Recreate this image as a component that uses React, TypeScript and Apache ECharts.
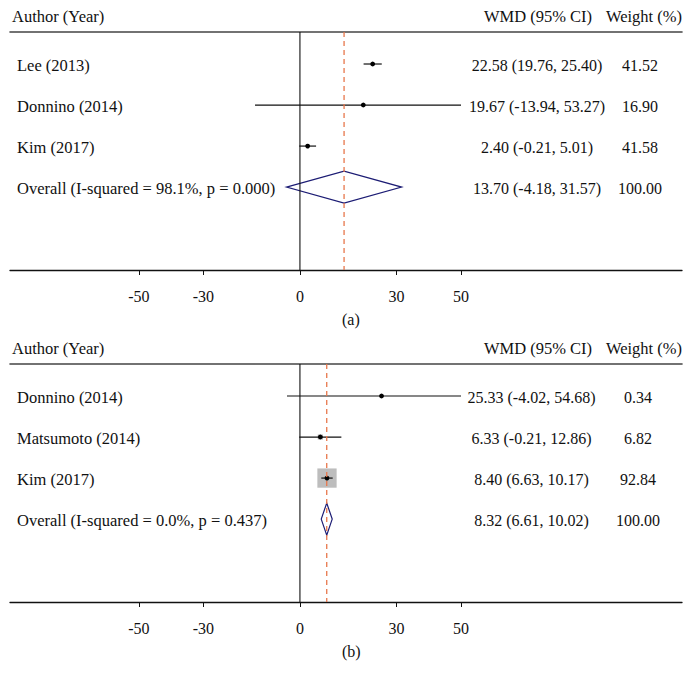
import React, { useEffect, useRef } from "react";
import * as echarts from "echarts";

// Panel (a)
const studiesA = ["Lee (2013)", "Donnino (2014)", "Kim (2017)"];
const estA = [22.58, 19.67, 2.4];
const loA = [19.76, -13.94, -0.21];
const hiA = [25.4, 53.27, 5.01];
const weightA = [41.52, 16.9, 41.58];
const overallLabelA = "Overall (I-squared = 98.1%, p = 0.000)";
const overallA = [13.7, -4.18, 31.57, 100.0];

// Panel (b)
const studiesB = ["Donnino (2014)", "Matsumoto (2014)", "Kim (2017)"];
const estB = [25.33, 6.33, 8.4];
const loB = [-4.02, -0.21, 6.63];
const hiB = [54.68, 12.86, 10.17];
const weightB = [0.34, 6.82, 92.84];
const overallLabelB = "Overall (I-squared = 0.0%, p = 0.437)";
const overallB = [8.32, 6.61, 10.02, 100.0];

const tickValues = [-50, -30, 0, 30, 50];
const plotMin = -50;
const plotMax = 50;
const headerLeft = "Author (Year)";
const headerMid = "WMD (95% CI)";
const headerRight = "Weight (%)";

const FONT = '"Liberation Serif", "Times New Roman", serif';
const X_MIN = -90;
const X_MAX = 118.6;
const Y_MIN = -0.78;
const Y_MAX = 5.02;

function buildRows(names: string[], est: number[], lo: number[], hi: number[], w: number[], ovLabel: string, ov: number[]) {
  const rows: any[] = names.map((n, i) => ({ value: [i, est[i], lo[i], hi[i], w[i], 0, n] }));
  rows.push({ value: [names.length, ov[0], ov[1], ov[2], ov[3], 1, ovLabel] });
  return rows;
}

function makeRenderItem(boxK: number, ciFromRight: number, wFromRight: number) {
  return (params: any, api: any) => {
    const row = api.value(0);
    const est = api.value(1);
    const lo = api.value(2);
    const hi = api.value(3);
    const w = api.value(4);
    const isOverall = api.value(5) === 1;
    const cs = params.coordSys;
    const [xe, y] = api.coord([est, row]);
    const xl = api.coord([Math.max(lo, plotMin), row])[0];
    const xh = api.coord([Math.min(hi, plotMax), row])[0];
    const children: any[] = [];
    if (isOverall) {
      children.push({
        type: "polygon",
        shape: { points: [[xl, y], [xe, y - 16], [xh, y], [xe, y + 16]] },
        style: { fill: "none", stroke: "#1c1c74", lineWidth: 1.2 },
      });
    } else {
      const s = boxK * Math.sqrt(w);
      if (s > 1) {
        children.push({
          type: "rect",
          shape: { x: xe - s / 2, y: y - s / 2, width: s, height: s },
          style: { fill: "#bdbdbd" },
        });
      }
      children.push({
        type: "line",
        shape: { x1: xl, y1: y, x2: xh, y2: y },
        style: { stroke: "#111", lineWidth: 1.2 },
      });
      children.push({
        type: "circle",
        shape: { cx: xe, cy: y, r: 2.4 },
        style: { fill: "#000" },
      });
    }
    children.push({
      type: "text",
      style: {
        text: api.value(6) ?? "",
        x: cs.x + 7, y: y + 1, align: "left", verticalAlign: "middle",
        fontSize: 16.5, fontFamily: FONT, fill: "#111",
      },
    });
    children.push({
      type: "text",
      style: {
        text: `${est.toFixed(2)} (${lo.toFixed(2)}, ${hi.toFixed(2)})`,
        x: cs.x + cs.width - ciFromRight, y: y + 1, align: "center", verticalAlign: "middle",
        fontSize: 16, fontFamily: FONT, fill: "#111",
      },
    });
    children.push({
      type: "text",
      style: {
        text: w.toFixed(2),
        x: cs.x + cs.width - wFromRight, y: y + 1, align: "center", verticalAlign: "middle",
        fontSize: 16, fontFamily: FONT, fill: "#111",
      },
    });
    return { type: "group", children };
  };
}

export default function App() {
  const ref = useRef<HTMLDivElement>(null);
  useEffect(() => {
    if (!ref.current) return;
    const chart = echarts.init(ref.current, null, { renderer: "svg" });
    const gridLeft = 10;
    const gridWidth = 672;
    const grids = [
      { left: gridLeft, width: gridWidth, top: 32, height: 238 },
      { left: gridLeft, width: gridWidth, top: 364, height: 238 },
    ];
    const rowsA = buildRows(studiesA, estA, loA, hiA, weightA, overallLabelA, overallA);
    const rowsB = buildRows(studiesB, estB, loB, hiB, weightB, overallLabelB, overallB);

    const bottomAxis = (gi: number) => ({
      type: "value", gridIndex: gi, min: X_MIN, max: X_MAX, position: "bottom",
      axisLine: { show: true, onZero: false, lineStyle: { color: "#111", width: 1.3 } },
      axisTick: { show: true, customValues: tickValues, length: 5, lineStyle: { color: "#111" } },
      axisLabel: { show: true, customValues: tickValues, margin: 18, fontSize: 16, fontFamily: FONT, color: "#111" },
      splitLine: { show: false },
    });
    const topAxis = (gi: number) => ({
      type: "value", gridIndex: gi, min: X_MIN, max: X_MAX, position: "top",
      axisLine: { show: true, onZero: false, lineStyle: { color: "#444", width: 1.6 } },
      axisTick: { show: false }, axisLabel: { show: false }, splitLine: { show: false },
    });
    const yAx = (gi: number) => ({ type: "value", gridIndex: gi, min: Y_MIN, max: Y_MAX, inverse: true, show: false });

    const refLine = (xi: number, x: number, color: string, dashed: boolean) => ({
      type: "line", xAxisIndex: xi, yAxisIndex: xi / 2, data: [[x, Y_MIN], [x, Y_MAX]],
      symbol: "none", silent: true,
      lineStyle: { color, width: dashed ? 1.3 : 1.1, type: dashed ? [5, 4] : "solid" },
    });

    const headerTexts = (top: number) => [
      { type: "text", left: 12, top: top - 24, style: { text: headerLeft, fontSize: 16.5, fontFamily: FONT, fill: "#111" } },
      { type: "text", x: 538, y: top - 16, style: { text: headerMid, fontSize: 16.5, fontFamily: FONT, fill: "#111", align: "center", verticalAlign: "middle" } },
      { type: "text", x: 644, y: top - 16, style: { text: headerRight, fontSize: 16.5, fontFamily: FONT, fill: "#111", align: "center", verticalAlign: "middle" } },
    ];

    chart.setOption({
      animation: false,
      grid: grids,
      xAxis: [bottomAxis(0), topAxis(0), bottomAxis(1), topAxis(1)],
      yAxis: [yAx(0), yAx(1)],
      series: [
        refLine(0, 0, "#111", false),
        refLine(0, overallA[0], "#e8764b", true),
        {
          type: "custom", xAxisIndex: 0, yAxisIndex: 0, clip: false,
          renderItem: makeRenderItem(0.4, 145, 42),
          encode: { x: [1, 2, 3], y: 0 },
          data: rowsA,
        },
        refLine(2, 0, "#111", false),
        refLine(2, overallB[0], "#e8764b", true),
        {
          type: "custom", xAxisIndex: 2, yAxisIndex: 1, clip: false,
          renderItem: makeRenderItem(2.0, 150.5, 44),
          encode: { x: [1, 2, 3], y: 0 },
          data: rowsB,
        },
      ],
      graphic: [
        ...headerTexts(32),
        ...headerTexts(364),
        { type: "text", left: 342, top: 311, style: { text: "(a)", fontSize: 16, fontFamily: FONT, fill: "#111" } },
        { type: "text", left: 342, top: 643, style: { text: "(b)", fontSize: 16, fontFamily: FONT, fill: "#111" } },
      ],
    });
    return () => chart.dispose();
  }, []);
  return (
    <div
      ref={ref}
      style={{ position: "fixed", left: 0, top: 0, width: 692, height: 683, background: "#fff" }}
    />
  );
}
